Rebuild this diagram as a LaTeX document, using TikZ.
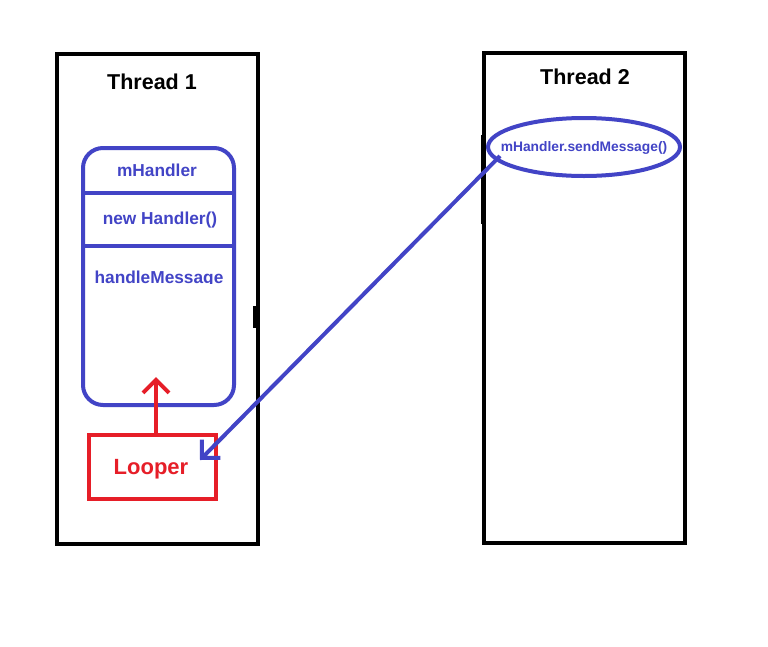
\documentclass[tikz,border=0pt]{standalone}
\usepackage{fontspec}
\setmainfont{Liberation Sans}
\usetikzlibrary{arrows.meta,shapes.geometric}
\definecolor{hblue}{RGB}{66,68,198}
\definecolor{lred}{RGB}{230,30,40}
\tikzset{
  threadbox/.style={draw=black,line width=4pt},
  title/.style={font=\bfseries\fontsize{21.5}{25}\selectfont,text=black},
  htext/.style={font=\bfseries\fontsize{17.3}{20}\selectfont,text=hblue},
  bluepen/.style={draw=hblue,line width=4pt},
  redpen/.style={draw=lred,line width=4pt},
  barb/.style={-{Straight Barb[length=13pt,width=26pt]}}
}
\begin{document}
\begin{tikzpicture}[x=1pt,y=-1pt]
\useasboundingbox[fill=white] (0,0) rectangle (768,646);
% thread boxes
\draw[threadbox] (57,54) rectangle (258,544);
\draw[threadbox] (484,53) rectangle (685,543);
\draw[black,line width=3pt] (254.5,306) -- (254.5,328);
\draw[black,line width=3pt] (482.5,135) -- (482.5,224);
\node[title] (t1) at (152,82) {Thread 1};
\node[title] (t2) at (585,77) {Thread 2};
% handler box
\draw[bluepen,rounded corners=20pt] (83,148) rectangle (234,405);
\draw[bluepen] (83,193) -- (236,193);
\draw[bluepen] (83,246) -- (234,246);
\node[htext] (mh) at (157,170) {mHandler};
\node[htext] (nh) at (160,220) {new Handler()};
\begin{scope}
\clip (86,250) rectangle (232,283.5);
\node[htext,anchor=base] (hm) at (159,283) {handleMessage};
\end{scope}
% looper
\node[redpen,minimum width=127pt,minimum height=64pt,inner sep=0pt] (looper) at (152.5,467) {};
\node[font=\bfseries\fontsize{22}{25}\selectfont,text=lred] (looperlabel) at (151,469) {Looper};
\coordinate (rtip) at (156,377);
\draw[redpen,barb] (looper.north -| rtip) -- (rtip);
% sender ellipse
\node[font=\bfseries\fontsize{13.8}{16}\selectfont,text=hblue] (send) at (584,148) {mHandler.sendMessage()};
\draw[bluepen] (send.center) ++(0,-1) ellipse [x radius=96pt, y radius=29pt];
\coordinate (s) at (500,156);
\coordinate (t) at (200,460);
\draw[bluepen,barb] (s) -- (t);
\end{tikzpicture}
\end{document}
